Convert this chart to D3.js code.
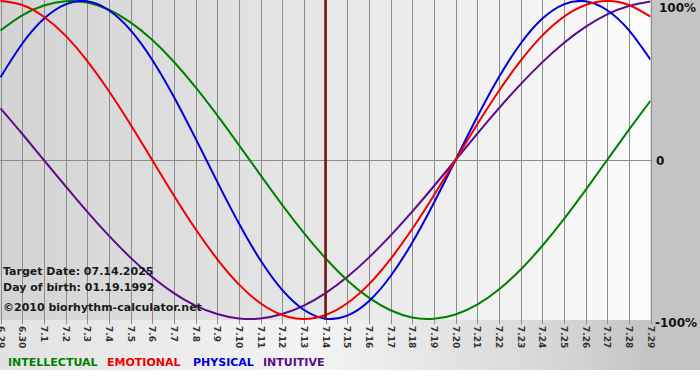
<!DOCTYPE html>
<html><head><meta charset="utf-8">
<script src="https://cdn.jsdelivr.net/npm/d3@7"></script>
<style>html,body{margin:0;padding:0;background:#fff;}svg{display:block;}</style>
</head><body>
<script>
const days = ["6.29","6.30","7.1","7.2","7.3","7.4","7.5","7.6","7.7","7.8","7.9","7.10","7.11","7.12","7.13","7.14","7.15","7.16","7.17","7.18","7.19","7.20","7.21","7.22","7.23","7.24","7.25","7.26","7.27","7.28","7.29"];
const physical = [0.520,0.731,0.888,0.979,0.998,0.942,0.817,0.631,0.398,0.136,-0.136,-0.398,-0.631,-0.817,-0.942,-0.998,-0.979,-0.888,-0.731,-0.520,-0.270,0.000,0.270,0.520,0.731,0.888,0.979,0.998,0.942,0.817,0.631];
const emotional = [1.000,0.975,0.901,0.782,0.623,0.434,0.223,0.000,-0.223,-0.434,-0.623,-0.782,-0.901,-0.975,-1.000,-0.975,-0.901,-0.782,-0.623,-0.434,-0.223,0.000,0.223,0.434,0.623,0.782,0.901,0.975,1.000,0.975,0.901];
const intellectual = [0.815,0.910,0.972,0.999,0.990,0.945,0.866,0.756,0.618,0.458,0.282,0.095,-0.095,-0.282,-0.458,-0.618,-0.756,-0.866,-0.945,-0.990,-0.999,-0.972,-0.910,-0.815,-0.690,-0.541,-0.372,-0.189,0.000,0.189,0.372];
const intuitive = [0.325,0.165,0.000,-0.165,-0.325,-0.476,-0.614,-0.736,-0.837,-0.916,-0.969,-0.997,-0.997,-0.969,-0.916,-0.837,-0.736,-0.614,-0.476,-0.325,-0.165,0.000,0.165,0.325,0.476,0.614,0.736,0.837,0.916,0.969,0.997];
const targetDay = "7.14";
const yTicks = [1, 0, -1];
const yTickLabels = ["100%", "0", "-100%"];
const seriesNames = ["INTELLECTUAL", "EMOTIONAL", "PHYSICAL", "INTUITIVE"];
const infoLines = ["Target Date: 07.14.2025", "Day of birth: 01.19.1992", "\u00A92010 biorhythm-calculator.net"];

const W = 700, H = 380;
const plotL = 0.5, plotR = 650.5, plotT = 0, plotB = 320;
const colors = {INTELLECTUAL:"#008000", EMOTIONAL:"#ee0000", PHYSICAL:"#0000dd", INTUITIVE:"#5c0b8a"};
const dataBy = {INTELLECTUAL: intellectual, EMOTIONAL: emotional, PHYSICAL: physical, INTUITIVE: intuitive};

const svg = d3.select("body").append("svg").attr("width", W).attr("height", H);
const defs = svg.append("defs");
const g1 = defs.append("linearGradient").attr("id","plotbg").attr("x1","0").attr("x2","1").attr("y1","0").attr("y2","0");
g1.append("stop").attr("offset","0%").attr("stop-color","#d3d3d3");
g1.append("stop").attr("offset","55%").attr("stop-color","#e9e9e9");
g1.append("stop").attr("offset","100%").attr("stop-color","#fbfbfb");
const g2 = defs.append("linearGradient").attr("id","outerbg").attr("x1","0").attr("x2","1").attr("y1","0").attr("y2","0");
g2.append("stop").attr("offset","0%").attr("stop-color","#e2e2e2");
g2.append("stop").attr("offset","45%").attr("stop-color","#f4f4f4");
g2.append("stop").attr("offset","80%").attr("stop-color","#d6d6d6");
g2.append("stop").attr("offset","93%").attr("stop-color","#c4c4c4");
g2.append("stop").attr("offset","100%").attr("stop-color","#c4c4c4");
defs.append("clipPath").attr("id","clip").append("rect").attr("x",0).attr("y",0).attr("width",plotR).attr("height",plotB);

svg.append("rect").attr("x",0).attr("y",0).attr("width",W).attr("height",370).attr("fill","url(#outerbg)");
svg.append("rect").attr("x",651).attr("y",0).attr("width",W-651).attr("height",370).attr("fill","#c4c4c4");
svg.append("rect").attr("x",0).attr("y",plotT).attr("width",plotR).attr("height",plotB-plotT).attr("fill","url(#plotbg)");

const x = d3.scalePoint().domain(days).range([plotL, plotR]);
const y = d3.scaleLinear().domain([-1, 1]).range([319, 1]);

// vertical grid + ticks
svg.append("g").selectAll("line").data(days).join("line")
  .attr("x1", d => Math.round(x(d)) + 0.5).attr("x2", d => Math.round(x(d)) + 0.5)
  .attr("y1", plotT).attr("y2", plotB + 4)
  .attr("stroke", "#8c8c8c").attr("stroke-width", 1);
// zero line
svg.append("line").attr("x1",0).attr("x2",plotR+2).attr("y1",Math.round(y(0))+0.5).attr("y2",Math.round(y(0))+0.5)
  .attr("stroke","#8c8c8c").attr("stroke-width",1);

// x tick labels (rotated)
svg.append("g").selectAll("text").data(days).join("text")
  .attr("transform", d => `translate(${Math.round(x(d))},${plotB + 6}) rotate(90)`)
  .attr("dominant-baseline","central")
  .attr("font-family","DejaVu Sans, Verdana, sans-serif").attr("font-size","9px").attr("font-weight","bold")
  .attr("fill","#333").text(d => d);

// y labels
svg.append("g").selectAll("text").data(yTicks).join("text")
  .attr("x", (d,i) => i === 1 ? 656 : (i === 0 ? 659 : 655))
  .attr("y", (d,i) => [12, 165, 327][i])
  .attr("font-family","DejaVu Sans, Verdana, sans-serif").attr("font-size","12px").attr("font-weight","bold")
  .attr("fill","#111").text((d,i) => yTickLabels[i]);

// lines
const line = d3.line().x((d,i) => x(days[i])).y(d => y(d)).curve(d3.curveNatural);
const lg = svg.append("g").attr("clip-path","url(#clip)");
["INTUITIVE","INTELLECTUAL","PHYSICAL","EMOTIONAL"].forEach(name => {
  lg.append("path").datum(dataBy[name]).attr("d", line)
    .attr("fill","none").attr("stroke", colors[name]).attr("stroke-width", 2);
});

// target line
svg.append("line").attr("x1", x(targetDay)).attr("x2", x(targetDay)).attr("y1", plotT).attr("y2", plotB)
  .attr("stroke","#7a1414").attr("stroke-width",2.5);

// info text
svg.append("g").selectAll("text").data(infoLines).join("text")
  .attr("x", 3).attr("y", (d,i) => [275, 291, 311][i])
  .attr("font-family","DejaVu Sans, Verdana, sans-serif").attr("font-size","11px").attr("font-weight","bold")
  .attr("fill","#1a1a1a").text(d => d);

// legend
const legX = [8, 107, 193, 263];
svg.append("g").selectAll("text").data(seriesNames).join("text")
  .attr("x", (d,i) => legX[i]).attr("y", 366)
  .attr("font-family","DejaVu Sans, Verdana, sans-serif").attr("font-size","11px").attr("font-weight","bold")
  .attr("fill", d => colors[d]).text(d => d);
</script>
</body></html>
